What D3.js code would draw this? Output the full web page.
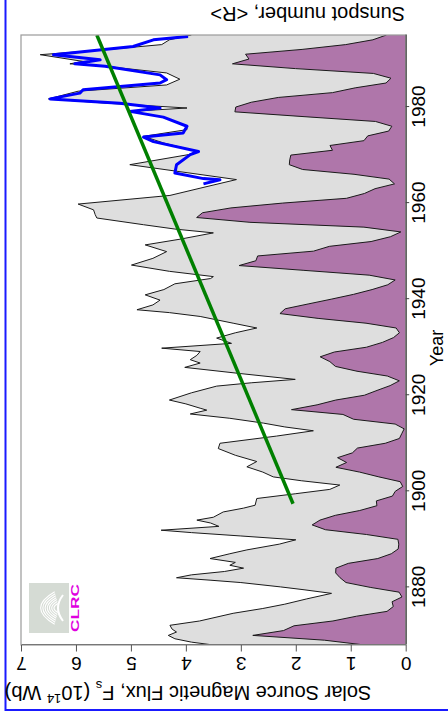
<!DOCTYPE html>
<html>
<head>
<meta charset="utf-8">
<script src="https://cdnjs.cloudflare.com/ajax/libs/d3/7.8.5/d3.min.js"></script>
<style>
  body { margin: 0; background: #fff; }
  svg { display: block; }
  text { font-family: "Liberation Sans", Arial, Helvetica, sans-serif; fill: #000; }
</style>
</head>
<body>
<div id="chart"></div>
<script>
// open solar flux (10^14 Wb)
var fluxYear = [1868.0, 1868.6, 1869.3, 1870.0, 1870.7, 1871.3, 1872.1, 1873.0, 1874.6, 1875.6,
  1876.5, 1877.6, 1878.75, 1879.5, 1880.1, 1881.0, 1881.5, 1882.0, 1882.6, 1883.3,
  1884.0, 1884.6, 1885.2, 1886.0, 1887.0, 1887.8, 1889.0, 1889.9, 1890.7, 1891.4,
  1891.9, 1892.7, 1893.4, 1894.0, 1894.6, 1895.7, 1896.5, 1897.1, 1898.5, 1899.5,
  1900.4, 1901.3, 1902.2, 1903.0, 1904.0, 1905.1, 1906.2, 1907.5, 1908.9, 1910.0,
  1911.5, 1912.6, 1913.4, 1914.2, 1915.2, 1916.1, 1916.9, 1917.3, 1918.2, 1919.0,
  1920.5, 1921.9, 1922.6, 1923.3, 1924.5, 1925.8, 1926.7, 1927.4, 1928.3, 1929.1,
  1929.8, 1930.8, 1931.9, 1933.0, 1934.0, 1935.0, 1936.4, 1937.2, 1937.8, 1938.8,
  1939.8, 1940.9, 1942.0, 1943.2, 1944.3, 1944.7, 1945.8, 1947.1, 1948.5, 1949.9,
  1951.3, 1952.5, 1953.8, 1954.6, 1955.5, 1956.9, 1957.6, 1958.6, 1959.8, 1961.6,
  1963.3, 1964.9, 1968.0, 1970.1, 1970.8, 1972.5, 1973.9, 1975.3, 1976.0, 1977.9,
  1979.1, 1979.8, 1980.8, 1981.7, 1983.3, 1984.6, 1985.8, 1987.1, 1988.6, 1989.0,
  1989.5, 1990.9, 1992.0, 1993.0, 1994.0, 1995.0];
var fluxValue = [3.50, 3.90, 4.20, 4.32, 4.17, 4.25, 4.29, 3.75, 3.14, 2.60,
  2.20, 1.80, 1.35, 1.85, 2.28, 3.00, 3.56, 4.17, 3.90, 3.30,
  2.95, 3.20, 3.10, 3.56, 3.20, 2.89, 2.30, 2.00, 3.00, 3.90,
  4.45, 3.40, 3.55, 3.80, 3.50, 3.32, 2.95, 2.74, 2.71, 2.00,
  1.38, 1.20, 1.90, 2.41, 2.60, 2.89, 2.71, 3.10, 3.41, 3.38,
  2.35, 1.68, 2.20, 2.59, 3.20, 3.92, 3.62, 3.74, 4.00, 4.30,
  3.90, 3.44, 2.80, 2.01, 3.00, 4.02, 3.74, 3.92, 3.80, 3.74,
  4.44, 3.17, 3.44, 3.10, 2.71, 3.14, 3.74, 4.30, 4.89, 4.60,
  4.47, 4.74, 4.40, 4.20, 3.55, 3.50, 4.30, 4.99, 4.60, 4.35,
  4.74, 4.10, 3.50, 4.20, 4.77, 5.62, 5.65, 5.68, 5.96, 4.29,
  3.67, 3.08, 5.02, 3.95, 3.80, 4.40, 4.77, 3.98, 3.98, 4.41,
  5.00, 3.98, 5.44, 6.50, 5.96, 4.35, 4.11, 4.35, 5.56, 6.11,
  5.87, 6.65, 5.40, 4.44, 4.30, 3.90];

// annual sunspot number <R>, from 1868
var sunspotStart = 1868;
var sunspotNumber = [37.3, 73.9, 139.1, 111.2, 101.6, 66.2, 44.7, 17.0, 11.3, 12.4, 3.4, 6.0,
  32.3, 54.3, 59.7, 63.7, 63.5, 52.2, 25.4, 13.1, 6.8, 6.3,
  7.1, 35.6, 73.0, 85.1, 78.0, 64.0, 41.8, 26.2, 26.7, 12.1,
  9.5, 2.7, 5.0, 24.4, 42.0, 63.5, 53.8, 62.0, 48.5, 43.9,
  18.6, 5.7, 3.6, 1.4, 9.6, 47.4, 57.1, 103.9, 80.6, 63.6,
  37.6, 26.1, 14.2, 5.8, 16.7, 44.3, 63.9, 69.0, 77.8, 64.9,
  35.7, 21.2, 11.1, 5.7, 8.7, 36.1, 79.7, 114.4, 109.6, 88.8,
  67.8, 47.5, 30.6, 16.3, 9.6, 33.2, 92.6, 151.6, 136.3, 134.7,
  83.9, 69.4, 31.5, 13.9, 4.4, 38.0, 141.7, 190.2, 184.8, 159.0,
  112.3, 53.9, 37.6, 27.9, 10.2, 15.1, 47.0, 93.8, 105.9, 105.5,
  104.5, 66.6, 68.9, 38.0, 34.5, 15.5, 12.6, 27.5, 92.5, 155.4,
  154.6, 140.5, 115.9, 66.6, 45.9, 17.9, 13.4, 29.4, 100.2, 157.6,
  142.6, 145.7, 94.3, 54.6, 29.9, 17.5];

// satellite-era flux (blue)
var blueYear = [1964.0, 1964.85, 1965.1, 1966.25, 1968.0, 1970.1, 1970.75, 1972.8, 1973.75, 1974.6,
  1976.0, 1977.9, 1979.1, 1979.8, 1980.8, 1981.7, 1982.9, 1983.6, 1985.0, 1985.7,
  1986.7, 1988.5, 1989.0, 1989.85, 1990.9, 1992.6, 1994.0, 1994.7];
var blueValue = [3.68, 3.38, 3.68, 4.20, 4.17, 3.92, 3.77, 4.59, 4.77, 4.05,
  3.98, 4.41, 5.02, 4.47, 5.20, 6.47, 5.93, 5.87, 4.47, 4.35,
  4.47, 5.47, 6.02, 5.56, 6.41, 4.96, 4.59, 3.96];

// linear trend (green)
var trendYear = [1897.4, 1995];
var trendValue = [2.05, 5.62];

var yearTicks = [1880, 1900, 1920, 1940, 1960, 1980];
var fluxTicks = [0, 1, 2, 3, 4, 5, 6, 7];

var W = 448, H = 719;
var svg = d3.select("#chart").append("svg")
    .attr("width", W)
    .attr("height", H);

// blue border of the slide
svg.append("path")
    .attr("d", "M5.5,-2V710H452")
    .attr("fill", "none")
    .attr("stroke", "#1a1aff")
    .attr("stroke-width", 2);

// the figure is drawn landscape and turned a quarter turn
var g = svg.append("g")
    .attr("transform", "translate(0," + H + ") rotate(-90)");

var x = d3.scaleLinear().domain([1868, 1995]).range([74, 684]);
var y = d3.scaleLinear().domain([0, 7]).range([405.7, 21]);
var ySun = d3.scaleLinear().domain([0, 350]).range([405.7, 21]);

g.append("clipPath").attr("id", "plotclip")
  .append("rect")
    .attr("x", x(1868)).attr("y", y(7))
    .attr("width", x(1995) - x(1868)).attr("height", y(0) - y(7));

var plot = g.append("g").attr("clip-path", "url(#plotclip)");

var flux = fluxYear.map(function(d, i) { return {year: d, value: fluxValue[i]}; });
var sun = sunspotNumber.map(function(d, i) { return {year: sunspotStart + i, value: d}; });
var blue = blueYear.map(function(d, i) { return {year: d, value: blueValue[i]}; });
var trend = trendYear.map(function(d, i) { return {year: d, value: trendValue[i]}; });

plot.append("path")
    .datum(flux)
    .attr("fill", "#dedede")
    .attr("d", d3.area()
        .x(function(d) { return x(d.year); })
        .y0(y(0))
        .y1(function(d) { return y(d.value); }));

plot.append("path")
    .datum(flux)
    .attr("fill", "none")
    .attr("stroke", "#1a1a1a")
    .attr("stroke-width", 1)
    .attr("d", d3.line()
        .x(function(d) { return x(d.year); })
        .y(function(d) { return y(d.value); }));

plot.append("path")
    .datum(sun)
    .attr("fill", "#af76aa")
    .attr("d", d3.area()
        .x(function(d) { return x(d.year); })
        .y0(ySun(0))
        .y1(function(d) { return ySun(d.value); }));

plot.append("path")
    .datum(sun)
    .attr("fill", "none")
    .attr("stroke", "#1a1a1a")
    .attr("stroke-width", 1)
    .attr("d", d3.line()
        .x(function(d) { return x(d.year); })
        .y(function(d) { return ySun(d.value); }));

plot.append("path")
    .datum(blue)
    .attr("fill", "none")
    .attr("stroke", "#0000ff")
    .attr("stroke-width", 3)
    .attr("stroke-linejoin", "round")
    .attr("d", d3.line()
        .x(function(d) { return x(d.year); })
        .y(function(d) { return y(d.value); }));

plot.append("path")
    .datum(trend)
    .attr("fill", "none")
    .attr("stroke", "#008000")
    .attr("stroke-width", 3.5)
    .attr("d", d3.line()
        .x(function(d) { return x(d.year); })
        .y(function(d) { return y(d.value); }));

// box
g.append("rect")
    .attr("x", x(1868)).attr("y", y(7))
    .attr("width", x(1995) - x(1868)).attr("height", y(0) - y(7))
    .attr("fill", "none")
    .attr("stroke", "#9a9a9a")
    .attr("stroke-width", 1.2);

// year axis
var xAxis = g.append("g")
    .attr("transform", "translate(0," + y(0) + ")")
    .call(d3.axisBottom(x).tickValues(yearTicks).tickFormat(d3.format("d"))
        .tickSize(3.5).tickSizeOuter(0).tickPadding(2.8));
xAxis.select(".domain").attr("stroke", "#444").attr("stroke-width", 1.2);
xAxis.selectAll(".tick line").attr("stroke", "#444");
xAxis.selectAll("text").style("font-size", "19px");

// flux axis, labels parallel to the axis
var yAxis = g.append("g")
    .attr("transform", "translate(" + x(1868) + ",0)")
    .call(d3.axisLeft(y).tickValues(fluxTicks).tickFormat(d3.format("d"))
        .tickSize(6.5).tickSizeOuter(0));
yAxis.select(".domain").attr("stroke", "#777").attr("stroke-width", 1.2);
yAxis.selectAll(".tick line").attr("stroke", "#555");
yAxis.selectAll("text")
    .attr("x", 0)
    .attr("dy", null)
    .attr("text-anchor", "middle")
    .attr("transform", "translate(-12,0) rotate(-90)")
    .style("font-size", "19px");

// axis titles
var ft = g.append("text")
    .attr("transform", "translate(33,188) rotate(-90)")
    .attr("text-anchor", "middle")
    .style("font-size", "20px");
ft.append("tspan").text("Solar Source Magnetic Flux, F");
ft.append("tspan").attr("dy", 5).style("font-size", "13px").text("s");
ft.append("tspan").attr("dy", -5).text(" (10");
ft.append("tspan").attr("dy", -8).style("font-size", "13px").text("14");
ft.append("tspan").attr("dy", 8).text(" Wb)");

g.append("text")
    .attr("transform", "translate(712,405) rotate(-90)")
    .attr("text-anchor", "start")
    .style("font-size", "20px")
    .text("Sunspot number, <R>");

g.append("text")
    .attr("x", (x(1868) + x(1995)) / 2 - 8)
    .attr("y", 443)
    .attr("text-anchor", "middle")
    .style("font-size", "18px")
    .text("Year");

// CLRC logo
var logo = g.append("g").attr("transform", "translate(86,29)");
logo.append("rect")
    .attr("width", 50).attr("height", 40)
    .attr("fill", "#d5dbd4");
var shell = logo.append("g")
    .attr("fill", "none")
    .attr("stroke", "#fff")
    .attr("stroke-width", 1.1);
[0, 1, 2, 3, 4, 5, 6].forEach(function(k) {
  var r = 6 + k * 2.6;
  shell.append("path")
      .attr("d", "M" + (25 - r * 0.75) + "," + (30 - r * 0.2) +
        " Q" + 25 + "," + (30 - r * 1.5) + " " + (25 + r * 0.75) + "," + (30 - r * 0.2));
});
shell.append("path").attr("d", "M12,34 Q25,24 38,34").attr("stroke-width", 2);
logo.append("text")
    .attr("x", 1).attr("y", 50)
    .attr("textLength", 48)
    .attr("lengthAdjust", "spacingAndGlyphs")
    .style("font-size", "11px")
    .style("font-weight", "bold")
    .style("fill", "#e000e0")
    .text("CLRC");
</script>
</body>
</html>
